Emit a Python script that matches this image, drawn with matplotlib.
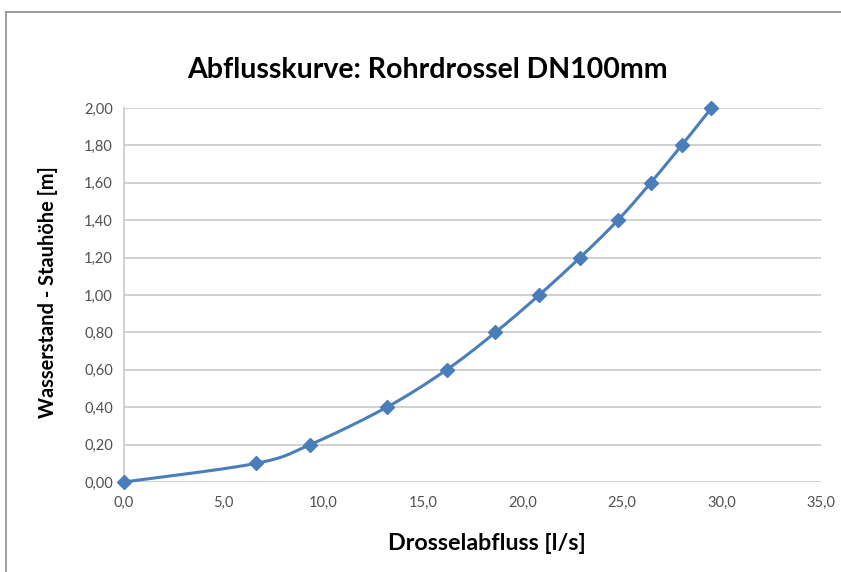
import numpy as np
import matplotlib
matplotlib.use("Agg")
import matplotlib.pyplot as plt
from matplotlib.ticker import FuncFormatter, MultipleLocator
from matplotlib.lines import Line2D

flow = [0.0, 6.65, 9.35, 13.2, 16.2, 18.65, 20.85, 22.9, 24.8, 26.45, 28.0, 29.5]
height = [0.0, 0.1, 0.2, 0.4, 0.6, 0.8, 1.0, 1.2, 1.4, 1.6, 1.8, 2.0]

title = "Abflusskurve: Rohrdrossel DN100mm"
xlabel = "Drosselabfluss [l/s]"
ylabel = "Wasserstand - Stauhöhe [m]"

plt.rcParams['font.family'] = ['Lato', 'DejaVu Sans']

W, H = 841, 572
fig = plt.figure(figsize=(W/100, H/100), dpi=100)
ax = fig.add_axes([124/W, 1-482/H, (821-124)/W, (482-108)/H])

# chart area border (left and top visible)
fig.add_artist(Line2D([6/W, 6/W], [0, 1-12/H], color="#8c8c8c", lw=1.2, transform=fig.transFigure))
fig.add_artist(Line2D([6/W, 1], [1-12/H, 1-12/H], color="#8c8c8c", lw=1.2, transform=fig.transFigure))

def smooth(x, y, n=30):
    P = np.column_stack([np.array(x)/35.0, np.array(y)/2.0])
    P = np.vstack([P[0], P, P[-1]])
    out = []
    for i in range(1, len(P)-2):
        p0, p1, p2, p3 = P[i-1], P[i], P[i+1], P[i+2]
        t = np.linspace(0, 1, n)[:, None]
        c = 0.5*((2*p1) + (-p0+p2)*t + (2*p0-5*p1+4*p2-p3)*t**2 + (-p0+3*p1-3*p2+p3)*t**3)
        out.append(c)
    C = np.vstack(out)
    return C[:, 0]*35.0, C[:, 1]*2.0

sx, sy = smooth(flow, height)
color = "#4a7ebb"
ax.plot(sx, sy, color=color, lw=2.2, zorder=3, clip_on=False)
ax.plot(flow, height, linestyle="none", marker="D", ms=7, color=color, zorder=4, clip_on=False)

ax.set_xlim(0, 35)
ax.set_ylim(0, 2.0)
ax.xaxis.set_major_locator(MultipleLocator(5))
ax.yaxis.set_major_locator(MultipleLocator(0.2))
ax.xaxis.set_major_formatter(FuncFormatter(lambda v, p: f"{v:.1f}".replace(".", ",")))
ax.yaxis.set_major_formatter(FuncFormatter(lambda v, p: f"{v:.2f}".replace(".", ",")))
ax.grid(axis="y", color="#c8c8c8", lw=1.2)
ax.set_axisbelow(True)
for s in ["top", "right", "bottom"]:
    ax.spines[s].set_visible(False)
ax.spines["left"].set_color("#c8c8c8")
ax.spines["left"].set_linewidth(1.2)
ax.tick_params(length=0, labelsize=10.5, colors="#505050", pad=8)
ax.tick_params(axis="x", pad=10)

def fit(t, target, vertical=False):
    fig.canvas.draw()
    bb = t.get_window_extent()
    cur = bb.height if vertical else bb.width
    t.set_fontsize(t.get_fontsize() * target / cur)

t1 = fig.text((187+668)/2/W, 1-70/H, title, ha="center", va="center",
              fontsize=20, fontweight="bold", color="black")
t2 = fig.text((387+586)/2/W, 1-544/H, xlabel, ha="center", va="center",
              fontsize=14, fontweight="bold")
t3 = fig.text(48/W, 1-292/H, ylabel, ha="center", va="center", rotation=90,
              fontsize=14, fontweight="bold")
fit(t1, 481)
fit(t2, 199)
fit(t3, 253, vertical=True)

fig.savefig("out.png", dpi=100, facecolor="white")
